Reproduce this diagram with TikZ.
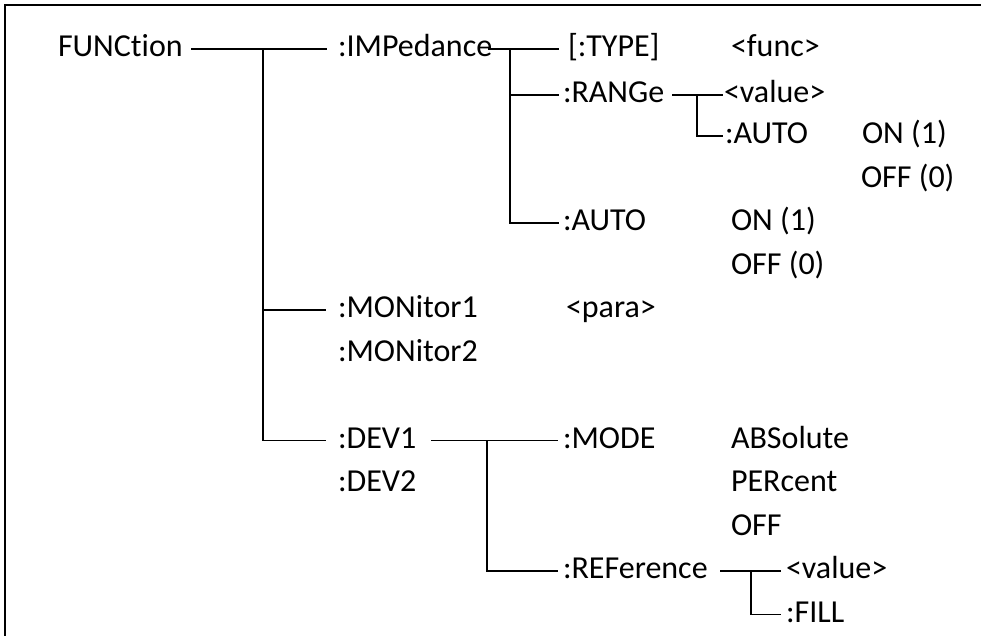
\documentclass[tikz,border=0pt]{standalone}
\usepackage{fontspec}
\setmainfont[Ligatures=NoCommon]{Carlito}
\begin{document}
\begin{tikzpicture}[x=1pt,y=-1pt,
  lbl/.style={anchor=west, inner sep=0pt, outer sep=0pt,
    font=\fontsize{32}{36}\selectfont, text height=22pt, text depth=6.3pt},
  conn/.style={line width=1.6pt, line cap=rect},
  frame/.style={line width=2pt}]
\useasboundingbox (0,0) rectangle (981,635);
% frame (top and left edges only)
\draw[frame] (4.5,640) -- (4.5,5) -- (985,5);

% level 0
\node[lbl] (func) at (58,49) {FUNCtion};
% level 1
\node[lbl] (imp)  at (338,49)    {:IMPedance};
\node[lbl] (mon1) at (338,310)   {:MONitor1};
\node[lbl] (mon2) at (338,353.5) {:MONitor2};
\node[lbl] (dev1) at (338,440.5) {:DEV1};
\node[lbl] (dev2) at (338,484)   {:DEV2};
% impedance subtree
\node[lbl] (type) at (568,49)    {[:TYPE]};
\node[lbl] (fn)   at (731,49)    {<func>};
\node[lbl] (rng)  at (563,95)    {:RANGe};
\node[lbl] (rv)   at (724,95)    {<value>};
\node[lbl] (ra)   at (725,136)   {:AUTO};
\node[lbl] (ron)  at (862,136)   {ON (1)};
\node[lbl] (roff) at (861,179.5) {OFF (0)};
\node[lbl] (ia)   at (563,223)   {:AUTO};
\node[lbl] (ion)  at (731,223)   {ON (1)};
\node[lbl] (ioff) at (731,266.5) {OFF (0)};
% monitor
\node[lbl] (para) at (566,310)   {<para>};
% dev subtree
\node[lbl] (mode) at (563,440.5) {:MODE};
\node[lbl] (abs)  at (731,440.5) {ABSolute};
\node[lbl] (per)  at (731,484)   {PERcent};
\node[lbl] (off)  at (731,527.5) {OFF};
\node[lbl] (ref)  at (563,571)   {:REFerence};
\node[lbl] (refv) at (786,571)   {<value>};
\node[lbl] (fill) at (786,614.5) {:FILL};

% junction points
\coordinate (j1) at (263,49);
\coordinate (j2) at (510,49);
\coordinate (j3) at (697,95);
\coordinate (j4) at (487,440.5);
\coordinate (j5) at (751,571);

% connectors
\draw[conn] ([xshift=9pt]func.east) -- ([xshift=-12pt]imp.west);
\draw[conn] (j1) |- ([xshift=-13pt]mon1.west);
\draw[conn] (j1) |- ([xshift=-13pt]dev1.west);

\draw[conn] ([xshift=-3pt]imp.east) -- ([xshift=-10pt]type.west);
\draw[conn] (j2) |- ([xshift=-5pt]rng.west);
\draw[conn] (j2) |- ([xshift=-5pt]ia.west);

\draw[conn] ([xshift=9pt]rng.east) -- ([xshift=-2pt]rv.west);
\draw[conn] (j3) |- ([xshift=-3pt]ra.west);

\draw[conn] ([xshift=16pt]dev1.east) -- ([xshift=-6pt]mode.west);
\draw[conn] (j4) |- ([xshift=-6pt]ref.west);

\draw[conn] ([xshift=13pt]ref.east) -- ([xshift=-6pt]refv.west);
\draw[conn] (j5) |- ([xshift=-6pt]fill.west);
\end{tikzpicture}
\end{document}
